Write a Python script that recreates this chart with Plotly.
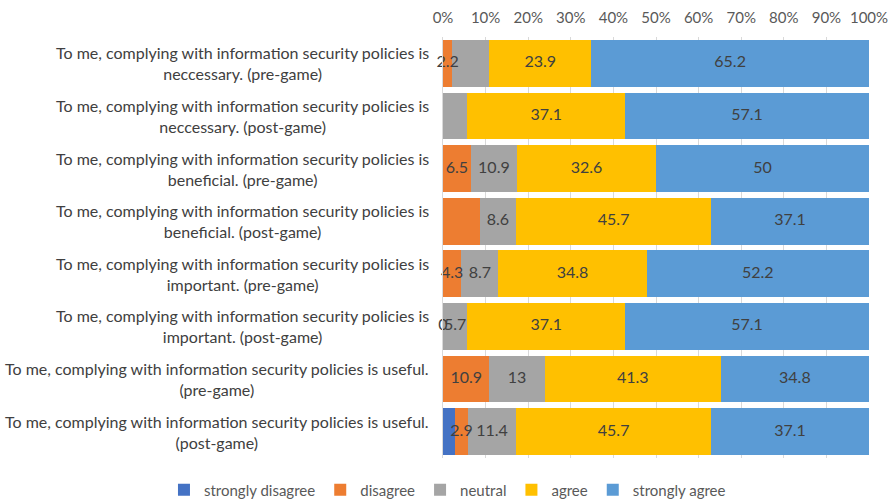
import plotly.graph_objects as go

# Survey statements (top to bottom)
categories = [
    "To me, complying with information security policies is<br>neccessary. (pre-game)",
    "To me, complying with information security policies is<br>neccessary. (post-game)",
    "To me, complying with information security policies is<br>beneficial. (pre-game)",
    "To me, complying with information security policies is<br>beneficial. (post-game)",
    "To me, complying with information security policies is<br>important. (pre-game)",
    "To me, complying with information security policies is<br>important. (post-game)",
    "To me, complying with information security policies is useful.<br>(pre-game)",
    "To me, complying with information security policies is useful.<br>(post-game)",
]

# Response shares in percent
strongly_disagree = [0, 0, 0, 0, 0, 0, 0, 2.9]
disagree = [2.2, 0, 6.5, 8.6, 4.3, 0, 10.9, 2.9]
neutral = [8.7, 5.7, 10.9, 8.6, 8.7, 5.7, 13, 11.4]
agree = [23.9, 37.1, 32.6, 45.7, 34.8, 37.1, 41.3, 45.7]
strongly_agree = [65.2, 57.1, 50, 37.1, 52.2, 57.1, 34.8, 37.1]

# Which segments carry a value label
show_sd = [False] * 8
show_d = [True, False, True, False, True, True, True, True]
show_n = [False, False, True, True, True, True, True, True]
show_a = [True] * 8
show_sa = [True] * 8

series = [
    ("strongly disagree", strongly_disagree, show_sd, "#4472C4"),
    ("disagree", disagree, show_d, "#ED7D31"),
    ("neutral", neutral, show_n, "#A5A5A5"),
    ("agree", agree, show_a, "#FFC000"),
    ("strongly agree", strongly_agree, show_sa, "#5B9BD5"),
]

tick_vals = list(range(0, 101, 10))

font_family = "Lato, 'Open Sans', Arial, sans-serif"
label_font = dict(family=font_family, size=16, color="#404040")


def fmt(v):
    return f"{v:g}"


fig = go.Figure()

# Stacked segments
for name, vals, shown, color in series:
    fig.add_trace(go.Bar(
        name=name,
        y=categories,
        x=vals,
        orientation="h",
        marker=dict(color=color, line=dict(width=0)),
        hoverinfo="x+name",
    ))

# Value labels, drawn above every segment at each segment's centre
lab_x, lab_y, lab_t = [], [], []
offset = [0.0] * len(categories)
for name, vals, shown, color in series:
    for cat, v, s, base in zip(categories, vals, shown, offset):
        if s:
            lab_x.append(base + v / 2)
            lab_y.append(cat)
            lab_t.append(fmt(v))
    offset = [b + v for b, v in zip(offset, vals)]

fig.add_trace(go.Scatter(
    x=lab_x, y=lab_y, text=lab_t,
    mode="text",
    textposition="middle center",
    textfont=label_font,
    cliponaxis=False,
    showlegend=False,
    hoverinfo="skip",
))

# Category labels, centred line by line to the left of the plot
for cat in categories:
    fig.add_annotation(
        x=0, xref="paper", xshift=-12,
        y=cat, yref="y",
        text=cat, showarrow=False,
        xanchor="right", yanchor="middle", align="center",
        font=label_font,
    )

fig.update_layout(
    barmode="stack",
    bargap=0.11,
    width=892, height=502,
    margin=dict(l=443, r=23, t=37, b=44, autoexpand=False),
    paper_bgcolor="white",
    plot_bgcolor="white",
    font=dict(family=font_family, color="#595959"),
    xaxis=dict(
        side="top",
        range=[0, 100],
        tickvals=tick_vals,
        ticktext=[f"{t}%" for t in tick_vals],
        tickfont=dict(size=15, color="#595959"),
        ticklabelstandoff=10,
        showgrid=True, gridcolor="#D9D9D9", gridwidth=1,
        zeroline=False, showline=False, ticks="",
        automargin=False,
        fixedrange=True,
    ),
    yaxis=dict(
        categoryorder="array",
        categoryarray=categories,
        autorange="reversed",
        showticklabels=False,
        showgrid=False, zeroline=False,
        showline=True, linecolor="#D9D9D9", linewidth=1,
        ticks="",
        automargin=False,
    ),
    legend=dict(
        orientation="h",
        xref="paper", x=-0.655, xanchor="left",
        yref="paper", y=-0.076, yanchor="middle",
        font=dict(family=font_family, size=15, color="#595959"),
        traceorder="normal",
        itemwidth=30,
    ),
    showlegend=True,
)

fig.write_html("out.html")
